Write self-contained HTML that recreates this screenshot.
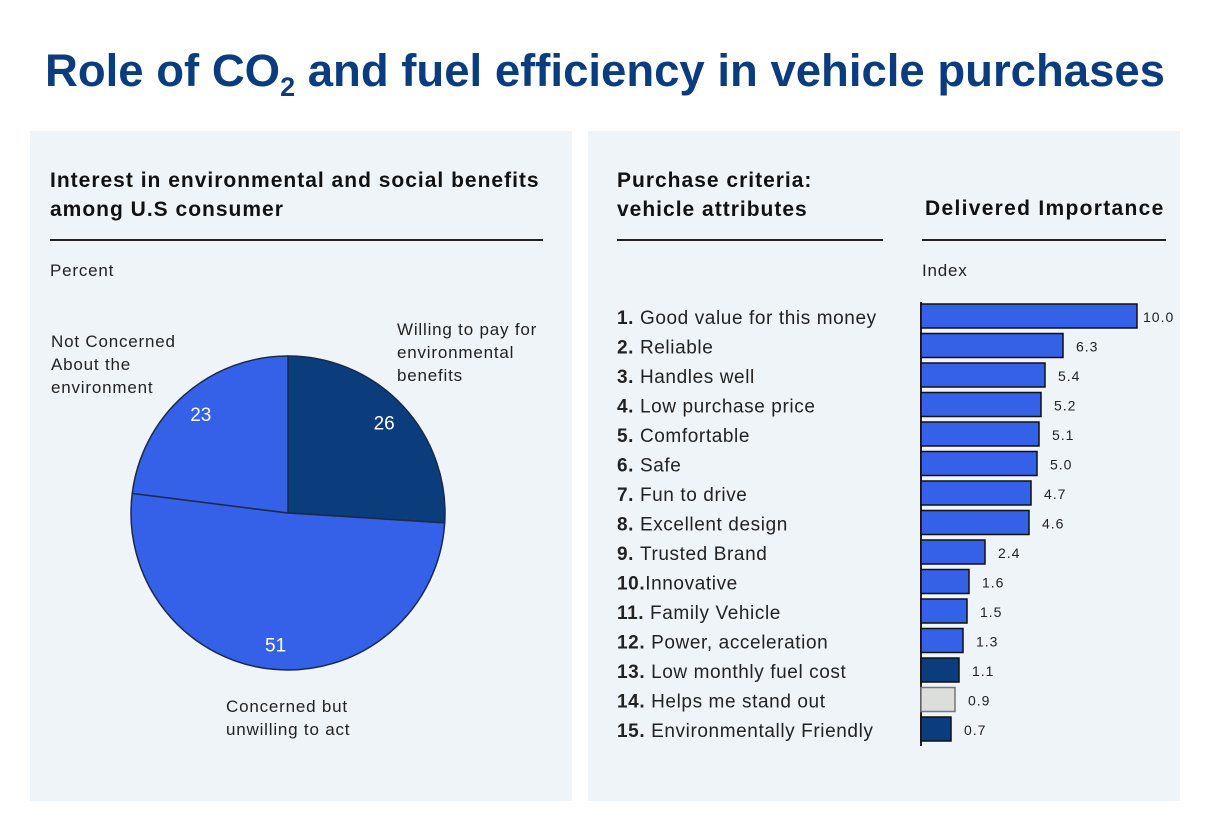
<!DOCTYPE html>
<html><head><meta charset="utf-8"><style>
body{margin:0;width:1210px;height:834px;background:#fff;font-family:"Liberation Sans",sans-serif;position:relative;overflow:hidden}
.abs{position:absolute}
.panel{position:absolute;background:#eff4f9;top:131px;height:670px}
.h{font-weight:bold;font-size:21px;color:#111;line-height:29px;letter-spacing:1px}
.rule{position:absolute;height:2px;background:#222}
.t{font-size:17px;color:#222;line-height:23px;letter-spacing:0.8px}
</style></head><body>
<div class="abs" style="left:0;width:1210px;top:45px;text-align:center;font-size:45.5px;font-weight:bold;color:#0b3d7e">Role of CO<sub style="font-size:27px">2</sub> and fuel efficiency in vehicle purchases</div>
<div class="panel" style="left:30px;width:542px"></div>
<div class="panel" style="left:588px;width:592px"></div>
<div class="abs h" style="left:50px;top:166px">Interest in environmental and social benefits<br>among U.S consumer</div>
<div class="rule" style="left:50px;width:493px;top:239px"></div>
<div class="abs t" style="left:50px;top:259px">Percent</div>
<div class="abs h" style="left:617px;top:166px">Purchase criteria:<br>vehicle attributes</div>
<div class="rule" style="left:617px;width:266px;top:239px"></div>
<div class="abs h" style="left:925px;top:194px;letter-spacing:1.3px">Delivered Importance</div>
<div class="rule" style="left:922px;width:244px;top:239px"></div>
<div class="abs t" style="left:922px;top:259px">Index</div>
<div class="abs t" style="left:51px;top:330px">Not Concerned<br>About the<br>environment</div>
<div class="abs t" style="left:397px;top:318px">Willing to pay for<br>environmental<br>benefits</div>
<div class="abs t" style="left:226px;top:695px">Concerned but<br>unwilling to act</div>
<svg class="abs" style="left:0;top:0" width="1210" height="834" id="svg"></svg>
<script>
const pieLabels=["Willing to pay","Concerned but unwilling","Not concerned"];
const pieValues=[26,51,23];
const pieColors=["#0b3c7c","#3461e8","#3461e8"];
const categories=["Good value for this money","Reliable","Handles well","Low purchase price","Comfortable","Safe","Fun to drive","Excellent design","Trusted Brand","Innovative","Family Vehicle","Power, acceleration","Low monthly fuel cost","Helps me stand out","Environmentally Friendly"];
const prefixes=["1. ","2. ","3. ","4. ","5. ","6. ","7. ","8. ","9. ","10.","11. ","12. ","13. ","14. ","15. "];
const values=[10.0,6.3,5.4,5.2,5.1,5.0,4.7,4.6,2.4,1.6,1.5,1.3,1.1,0.9,0.7];
const valueLabels=["10.0","6.3","5.4","5.2","5.1","5.0","4.7","4.6","2.4","1.6","1.5","1.3","1.1","0.9","0.7"];
const barColors=["#3461e8","#3461e8","#3461e8","#3461e8","#3461e8","#3461e8","#3461e8","#3461e8","#3461e8","#3461e8","#3461e8","#3461e8","#0b3c7c","#dcdedb","#0b3c7c"];
const NS="http://www.w3.org/2000/svg",svg=document.getElementById('svg');
function mk(t,a,p){const e=document.createElementNS(NS,t);for(const k in a)e.setAttribute(k,a[k]);(p||svg).appendChild(e);return e;}
// pie
const cx=288,cy=513,r=157,tot=pieValues.reduce((a,b)=>a+b,0);
let acc=0;
pieValues.forEach((v,i)=>{
 const a0=acc/tot*2*Math.PI;acc+=v;const a1=acc/tot*2*Math.PI;
 const x0=cx+r*Math.sin(a0),y0=cy-r*Math.cos(a0),x1=cx+r*Math.sin(a1),y1=cy-r*Math.cos(a1);
 const p=mk('path',{d:`M${cx},${cy}L${x0},${y0}A${r},${r} 0 ${a1-a0>Math.PI?1:0} 1 ${x1},${y1}Z`,fill:pieColors[i],stroke:"#1a2a4a","stroke-width":1.5});
 
 
 const am=(a0+a1)/2,lr=r*0.84;
 const t=mk('text',{x:cx+lr*Math.sin(am),y:cy-lr*Math.cos(am)+7,fill:"#fff","font-size":19,"text-anchor":"middle","font-family":"Liberation Sans"});
 t.textContent=v;
 
 
});
// bars
const x0=921,base=16,scale=20,top0=316,step=29.5,bh=24;
const ax=mk('line',{x1:x0,x2:x0,y1:302,y2:746,stroke:"#222","stroke-width":2});


values.forEach((v,i)=>{
 const yc=top0+i*step,w=base+v*scale;
 const b=mk('rect',{x:x0,y:yc-bh/2,width:w,height:bh,fill:barColors[i],stroke:i==13?"#777":"#111","stroke-width":1.5});
 
 
 const vl=mk('text',{x:x0+w+(v>=10?6:13),y:yc+6,"font-size":14,fill:"#222","font-family":"Liberation Sans","letter-spacing":1});
 vl.textContent=valueLabels[i];
 
 
 const cl=mk('text',{x:617,y:yc+8,"font-size":19,fill:"#222","font-family":"Liberation Sans","letter-spacing":0.6});
 const b1=mk('tspan',{"font-weight":"bold"},cl);b1.textContent=prefixes[i];
 const b2=mk('tspan',{},cl);b2.textContent=categories[i];
 
 
});
</script>
</body></html>
